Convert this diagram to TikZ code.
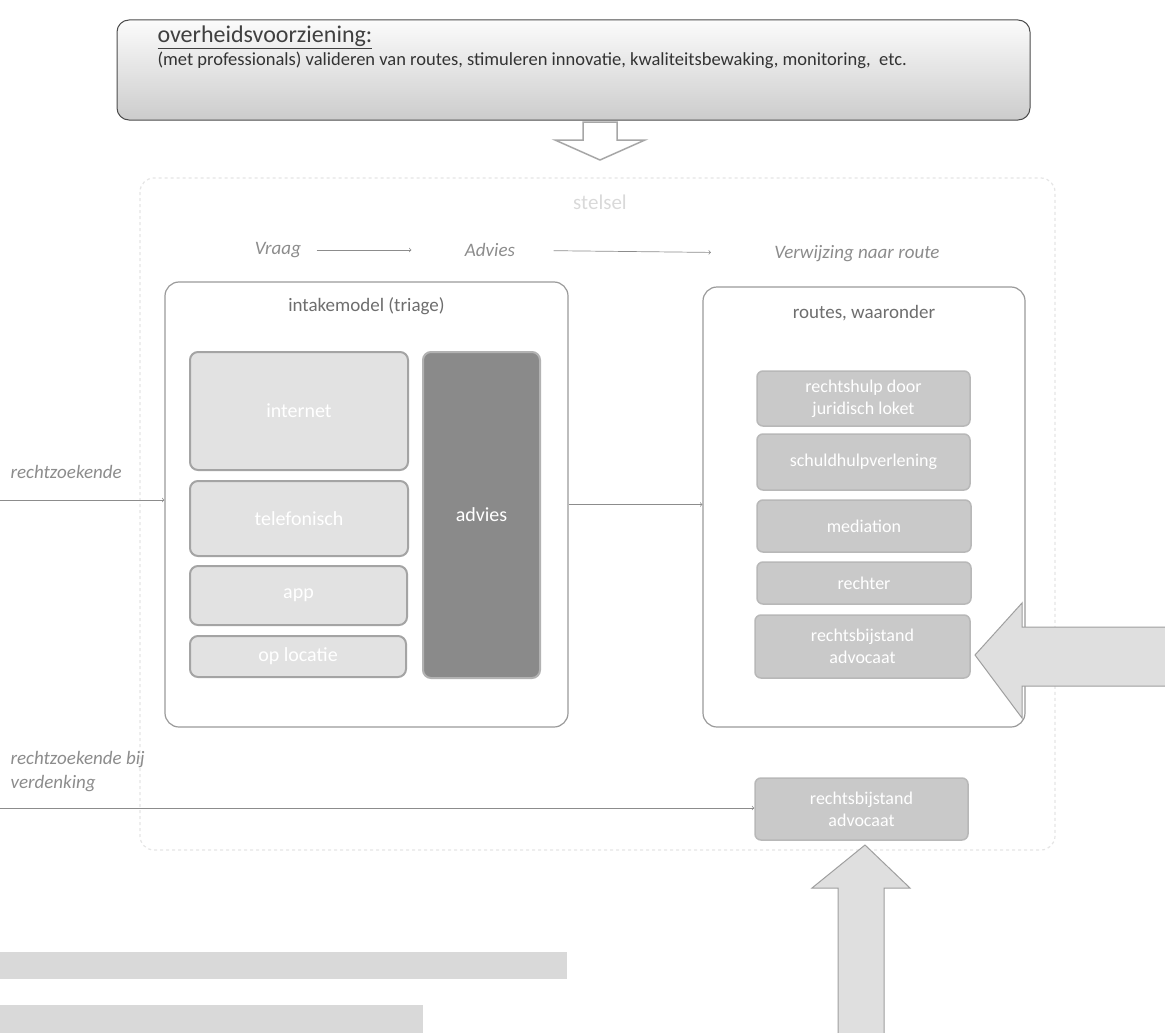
\documentclass[tikz,border=0pt]{standalone}
\usepackage{fontspec}
\setmainfont{Carlito}
\usetikzlibrary{positioning}

\definecolor{labelgray}{HTML}{8C8C8C}
\definecolor{titlegray}{HTML}{6E6E6E}
\definecolor{groupline}{HTML}{9A9A9A}
\definecolor{chanfill}{HTML}{E2E2E2}
\definecolor{chanline}{HTML}{A4A4A4}
\definecolor{routefill}{HTML}{C9C9C9}
\definecolor{routeline}{HTML}{B8B8B8}
\definecolor{adviesfill}{HTML}{8A8A8A}

\tikzset{
  group/.style={draw=groupline, line width=1.2pt, fill=white, rounded corners=14},
  channel/.style={draw=chanline, line width=2pt, fill=chanfill, rounded corners=8,
    text=white, font=\fontsize{20}{24}\selectfont},
  route/.style={draw=routeline, line width=1.5pt, fill=routefill, rounded corners=6,
    text=white, align=center, font=\fontsize{18}{22}\selectfont},
  label/.style={text=labelgray, font=\fontsize{19}{24}\selectfont\itshape, align=left},
  title/.style={text=titlegray, font=\fontsize{19}{22}\selectfont},
  flow/.style={->, draw=labelgray, line width=0.7pt},
  blockarrow/.style={draw=gray!75, fill=gray!25, line width=1pt},
}

\begin{document}
\begin{tikzpicture}[x=1pt,y=-1pt]
\useasboundingbox (0,0) rectangle (1165,1033);

% overheidsvoorziening
\node[draw=black!70, line width=1pt, rounded corners=12, top color=gray!3, bottom color=gray!40,
  minimum width=913, minimum height=100] (overheid) at (573.5,70) {};
\node[anchor=west, text=black!75, font=\fontsize{24}{28}\selectfont] (ovtitle) at (154,37)
  {\underline{overheidsvoorziening:}};
\node[anchor=west, text=black!80, font=\fontsize{18.5}{22}\selectfont] (ovtext) at (154,60)
  {(met professionals) valideren van routes, stimuleren innovatie, kwaliteitsbewaking, monitoring,\ \ etc.};

% hollow arrow down
\draw[draw=gray!70, fill=white, line width=1.5pt]
  (583,122) -- (617,122) -- (617,140) -- (645,140) -- (600,160) -- (555,140) -- (583,140) -- cycle;

% stelsel
\draw[dashed, draw=gray!20, line width=1.2pt, rounded corners=14] (140,178) rectangle (1055,850);
\node[text=gray!30, font=\fontsize{21}{24}\selectfont] (stelsel) at (600,202) {stelsel};

\node[label] (vraag) at (278,250) {Vraag};
\node[label] (advlbl) at (490,250) {Advies};
\node[label] (verwijzing) at (857,254) {Verwijzing naar route};
\draw[flow, shorten <=12pt, shorten >=50pt] (vraag) -- (advlbl);
\draw[flow, shorten <=35pt, shorten >=60pt] (advlbl) -- (verwijzing);

% intakemodel
\node[group, minimum width=403, minimum height=445] (intake) at (366.5,504.5) {};
\node[title, below=13pt of intake.north] (intaketitle) {intakemodel (triage)};
\node[channel, minimum width=218, minimum height=118] (internet) at (299,411) {internet};
\node[channel, minimum width=218, minimum height=75] (telefonisch) at (299,518.5) {telefonisch};
\node[channel, minimum width=217, minimum height=59] (app) at (298.5,595.5) {app};
\node[channel, minimum width=216, minimum height=41] (oplocatie) at (298,656.5) {op locatie};
\node[channel, draw=gray!60, fill=adviesfill, minimum width=117, minimum height=326] (advies) at (481.5,515) {advies};

% routes
\node[group, minimum width=322, minimum height=440] (routes) at (864,507) {};
\node[title, below=15pt of routes.north] (routestitle) {routes, waaronder};
\node[route, minimum width=213, minimum height=55] (loket) at (863.5,398.5) {rechtshulp door\\juridisch loket};
\node[route, minimum width=213, minimum height=56] (schuld) at (863.5,462) {schuldhulpverlening};
\node[route, minimum width=214, minimum height=52] (mediation) at (864,526) {mediation};
\node[route, minimum width=214, minimum height=42] (rechter) at (864,583) {rechter};
\node[route, minimum width=215, minimum height=63] (bijstand) at (862.5,646.5) {rechtsbijstand\\advocaat};

% rechtzoekende
\node[label, anchor=west] (rz) at (7,472) {rechtzoekende};
\coordinate (in1) at (0,500);
\draw[flow] (in1) -- (in1 -| intake.west);
\draw[flow] (intake.east) -- (intake.east -| routes.west);

% rechtzoekende bij verdenking
\node[label, anchor=west] (rzv) at (7,772) {rechtzoekende bij\\verdenking};
\node[route, minimum width=213, minimum height=62] (bijstand2) at (861.5,809) {rechtsbijstand\\advocaat};
\coordinate (in2) at (0,808);
\draw[flow] (in2) -- (in2 -| bijstand2.west);

% block arrows
\draw[blockarrow] (975,655) -- (1022,603) -- (1022,627) -- (1175,627) -- (1175,686)
  -- (1022,686) -- (1022,718) -- cycle;
\draw[blockarrow] (865,845) -- (910,888) -- (884,888) -- (884,1045) -- (838,1045)
  -- (838,888) -- (812,888) -- cycle;

% bars
\fill[gray!30] (-5,952) rectangle (567,979);
\fill[gray!30] (-5,1005) rectangle (423,1040);
\end{tikzpicture}
\end{document}
